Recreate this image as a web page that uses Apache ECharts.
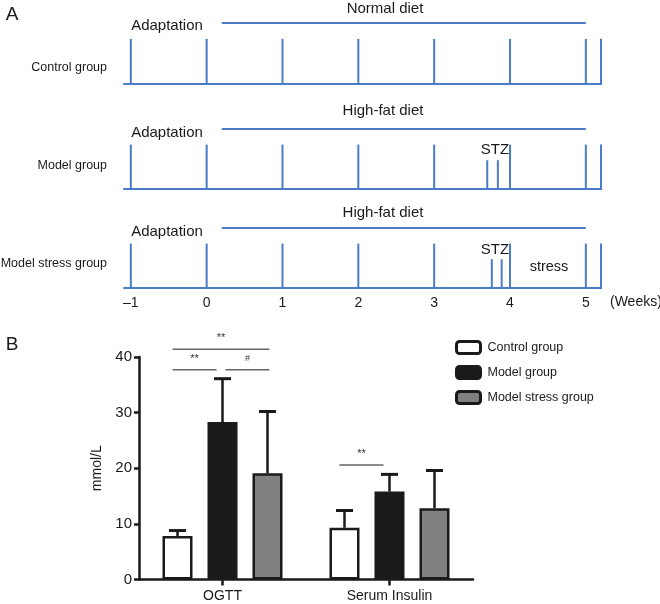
<!DOCTYPE html>
<html><head><meta charset="utf-8">
<script src="https://cdn.jsdelivr.net/npm/echarts@6/dist/echarts.min.js"></script>
<style>html,body{margin:0;padding:0;background:#fff}#c{width:660px;height:604px}</style>
</head><body><div id="c"></div>
<script>
// ---------- DATA ----------
const rowLabels = ['Control group', 'Model group', 'Model stress group'];
const dietLabels = ['Normal diet', 'High-fat diet', 'High-fat diet'];
const weekTicks = [-1, 0, 1, 2, 3, 4, 5, 5.2];
const weekLabels = [-1, 0, 1, 2, 3, 4, 5];
const dietSpan = [0.2, 5.0];
const stzControl = [];
const stzModel = [3.70, 3.84];
const stzStress = [3.76, 3.89];

const categories = ['OGTT', 'Serum Insulin'];
const groups = ['Control group', 'Model group', 'Model stress group'];
const controlMean = [7.8, 9.3];
const controlSD = [1.0, 3.1];
const modelMean = [28.3, 15.8];
const modelSD = [7.8, 3.1];
const stressMean = [19.1, 12.8];
const stressSD = [11.1, 6.8];
const yTicks = [0, 10, 20, 30, 40];

const sigCat = [0, 0, 0, 1];
const sigFrom = [0, 0, 1, 0];
const sigTo = [2, 1, 2, 1];
const sigLevel = [41.4, 37.7, 37.7, 20.6];
const sigText = ['**', '**', '#', '**'];

// ---------- STYLE ----------
const BLUE = '#4a7cc7';
const INK = '#1a1a1a';
const FONT = '"Liberation Sans", Arial, Helvetica, sans-serif';
const TICK_H = 0.74, STZ_H = 0.48;
const rowGrids = [
  {top: 23, bottom: 604 - 84},
  {top: 129, bottom: 604 - 189},
  {top: 228, bottom: 604 - 288}
];
const stzRows = [stzControl, stzModel, stzStress];

const grids = [], xAxes = [], yAxes = [], series = [];
rowGrids.forEach((g, i) => {
  grids.push({left: 124, width: 477, top: g.top, bottom: g.bottom});
  xAxes.push({
    type: 'value', gridIndex: i, min: -1.09, max: 5.2,
    axisLine: {show: true, onZero: false, lineStyle: {color: BLUE, width: 2}},
    axisTick: {show: false}, splitLine: {show: false},
    axisLabel: i === 2 ? {
      show: true, customValues: weekLabels, margin: 8,
      fontSize: 14, color: INK, fontFamily: FONT,
      formatter: v => v < 0 ? '\u2013' + Math.abs(v) : String(v)
    } : {show: false}
  });
  yAxes.push({type: 'value', gridIndex: i, min: 0, max: 1, show: false});
  const tickData = weekTicks.map(w => [w, TICK_H]).concat(stzRows[i].map(s => [s, STZ_H]));
  series.push({
    type: 'custom', name: 'ticks' + i, xAxisIndex: i, yAxisIndex: i, silent: true,
    data: tickData,
    renderItem: (p, api) => {
      const a = api.coord([api.value(0), 0]), b = api.coord([api.value(0), api.value(1)]);
      return {type: 'line', shape: {x1: a[0], y1: a[1] + 1, x2: b[0], y2: b[1]}, style: {stroke: BLUE, lineWidth: 2}};
    }
  });
  series.push({
    type: 'custom', name: 'diet' + i, xAxisIndex: i, yAxisIndex: i, silent: true,
    data: [dietSpan],
    renderItem: (p, api) => {
      const a = api.coord([api.value(0), 1]), b = api.coord([api.value(1), 1]);
      return {type: 'line', shape: {x1: a[0], y1: a[1], x2: b[0], y2: b[1]}, style: {stroke: BLUE, lineWidth: 2}};
    }
  });
});

// bar chart
const BI = 3;
grids.push({left: 139, right: 187, top: 357, bottom: 24.5});
xAxes.push({
  type: 'category', gridIndex: BI, data: categories,
  axisLine: {show: true, lineStyle: {color: INK, width: 2.5}},
  axisTick: {show: true, alignWithLabel: true, length: 6, lineStyle: {color: INK, width: 2.5}},
  axisLabel: {fontSize: 14, color: INK, fontFamily: FONT, margin: 10}
});
yAxes.push({
  type: 'value', gridIndex: BI, min: 0, max: 40, interval: 10,
  name: 'mmol/L', nameLocation: 'middle', nameGap: 34,
  nameTextStyle: {fontSize: 14, color: INK, fontFamily: FONT},
  axisLine: {show: true, lineStyle: {color: INK, width: 2.5}},
  axisTick: {show: true, length: 5, lineStyle: {color: INK, width: 2.5}},
  axisLabel: {fontSize: 15, color: INK, fontFamily: FONT, margin: 7},
  splitLine: {show: false}
});
const means = [controlMean, modelMean, stressMean];
const sds = [controlSD, modelSD, stressSD];
const fills = ['#ffffff', '#1a1a1a', '#808080'];
const STEP = 45;
groups.forEach((g, i) => {
  series.push({
    type: 'bar', name: g, xAxisIndex: BI, yAxisIndex: BI,
    data: means[i], barWidth: 30, barGap: '50%',
    itemStyle: {color: fills[i], borderColor: INK, borderWidth: 2.5},
    z: 2
  });
});
groups.forEach((g, i) => {
  series.push({
    type: 'custom', name: 'err' + i, xAxisIndex: BI, yAxisIndex: BI, silent: true, z: 3,
    data: categories.map((c, k) => [k, means[i][k], sds[i][k]]),
    renderItem: (p, api) => {
      const k = api.value(0), m = api.value(1), s = api.value(2);
      const a = api.coord([k, m]), b = api.coord([k, m + s]);
      const x = a[0] + (i - 1) * STEP;
      return {type: 'group', children: [
        {type: 'line', shape: {x1: x, y1: a[1], x2: x, y2: b[1]}, style: {stroke: INK, lineWidth: 2.5}},
        {type: 'line', shape: {x1: x - 8.5, y1: b[1], x2: x + 8.5, y2: b[1]}, style: {stroke: INK, lineWidth: 3}}
      ]};
    }
  });
});
series.push({
  type: 'custom', name: 'sig', xAxisIndex: BI, yAxisIndex: BI, silent: true, z: 3,
  data: sigCat.map((c, k) => [c, sigLevel[k], sigFrom[k], sigTo[k], k]),
  renderItem: (p, api) => {
    const c = api.value(0), lv = api.value(1), f = api.value(2), t = api.value(3), k = api.value(4);
    const pt = api.coord([c, lv]);
    const x1 = pt[0] + (f - 1) * STEP - 5 + (f === 1 ? 8 : 0);
    const x2 = pt[0] + (t - 1) * STEP + (t === 2 ? 2 : -6);
    return {type: 'group', children: [
      {type: 'line', shape: {x1: x1, y1: pt[1], x2: x2, y2: pt[1]}, style: {stroke: '#666', lineWidth: 1.5}},
      {type: 'text', style: {text: sigText[k], x: (x1 + x2) / 2, y: pt[1] - 11, align: 'center', verticalAlign: 'middle',
        fill: '#333', font: (sigText[k] === '#' ? '9px ' : '11px ') + FONT}}
    ]};
  }
});

function txt(text, x, y, size, align) {
  return {type: 'text', x: x, y: y, silent: true,
    style: {text: text, fill: INK, font: size + 'px ' + FONT, align: align || 'center', verticalAlign: 'middle'}};
}
const graphic = [
  txt('A', 12, 15, 19),
  txt('B', 12, 345, 19),
  txt(dietLabels[0], 385, 9, 15),
  txt(dietLabels[1], 383, 111, 15),
  txt(dietLabels[2], 383, 213, 15),
  txt('Adaptation', 167, 26, 15),
  txt('Adaptation', 167, 133, 15),
  txt('Adaptation', 167, 232, 15),
  txt(rowLabels[0], 107, 68, 12.5, 'right'),
  txt(rowLabels[1], 107, 166, 12.5, 'right'),
  txt(rowLabels[2], 107, 264, 12.5, 'right'),
  txt('STZ', 495, 150, 15),
  txt('STZ', 495, 250, 15),
  txt('stress', 549, 267, 14.5),
  txt('(Weeks)', 610, 302, 14, 'left')
];

const chart = echarts.init(document.getElementById('c'), null, {renderer: 'canvas'});
chart.setOption({
  animation: false,
  backgroundColor: '#fff',
  textStyle: {fontFamily: FONT},
  grid: grids, xAxis: xAxes, yAxis: yAxes, series: series,
  legend: {
    data: groups, orient: 'vertical', left: 455, top: 340, padding: 0,
    itemWidth: 24, itemHeight: 12, itemGap: 10, icon: 'roundRect',
    itemStyle: {borderColor: INK, borderWidth: 3},
    textStyle: {fontSize: 12.5, color: INK, fontFamily: FONT, padding: [0, 0, 0, 2]},
    selectedMode: false
  },
  graphic: graphic
});
</script></body></html>
